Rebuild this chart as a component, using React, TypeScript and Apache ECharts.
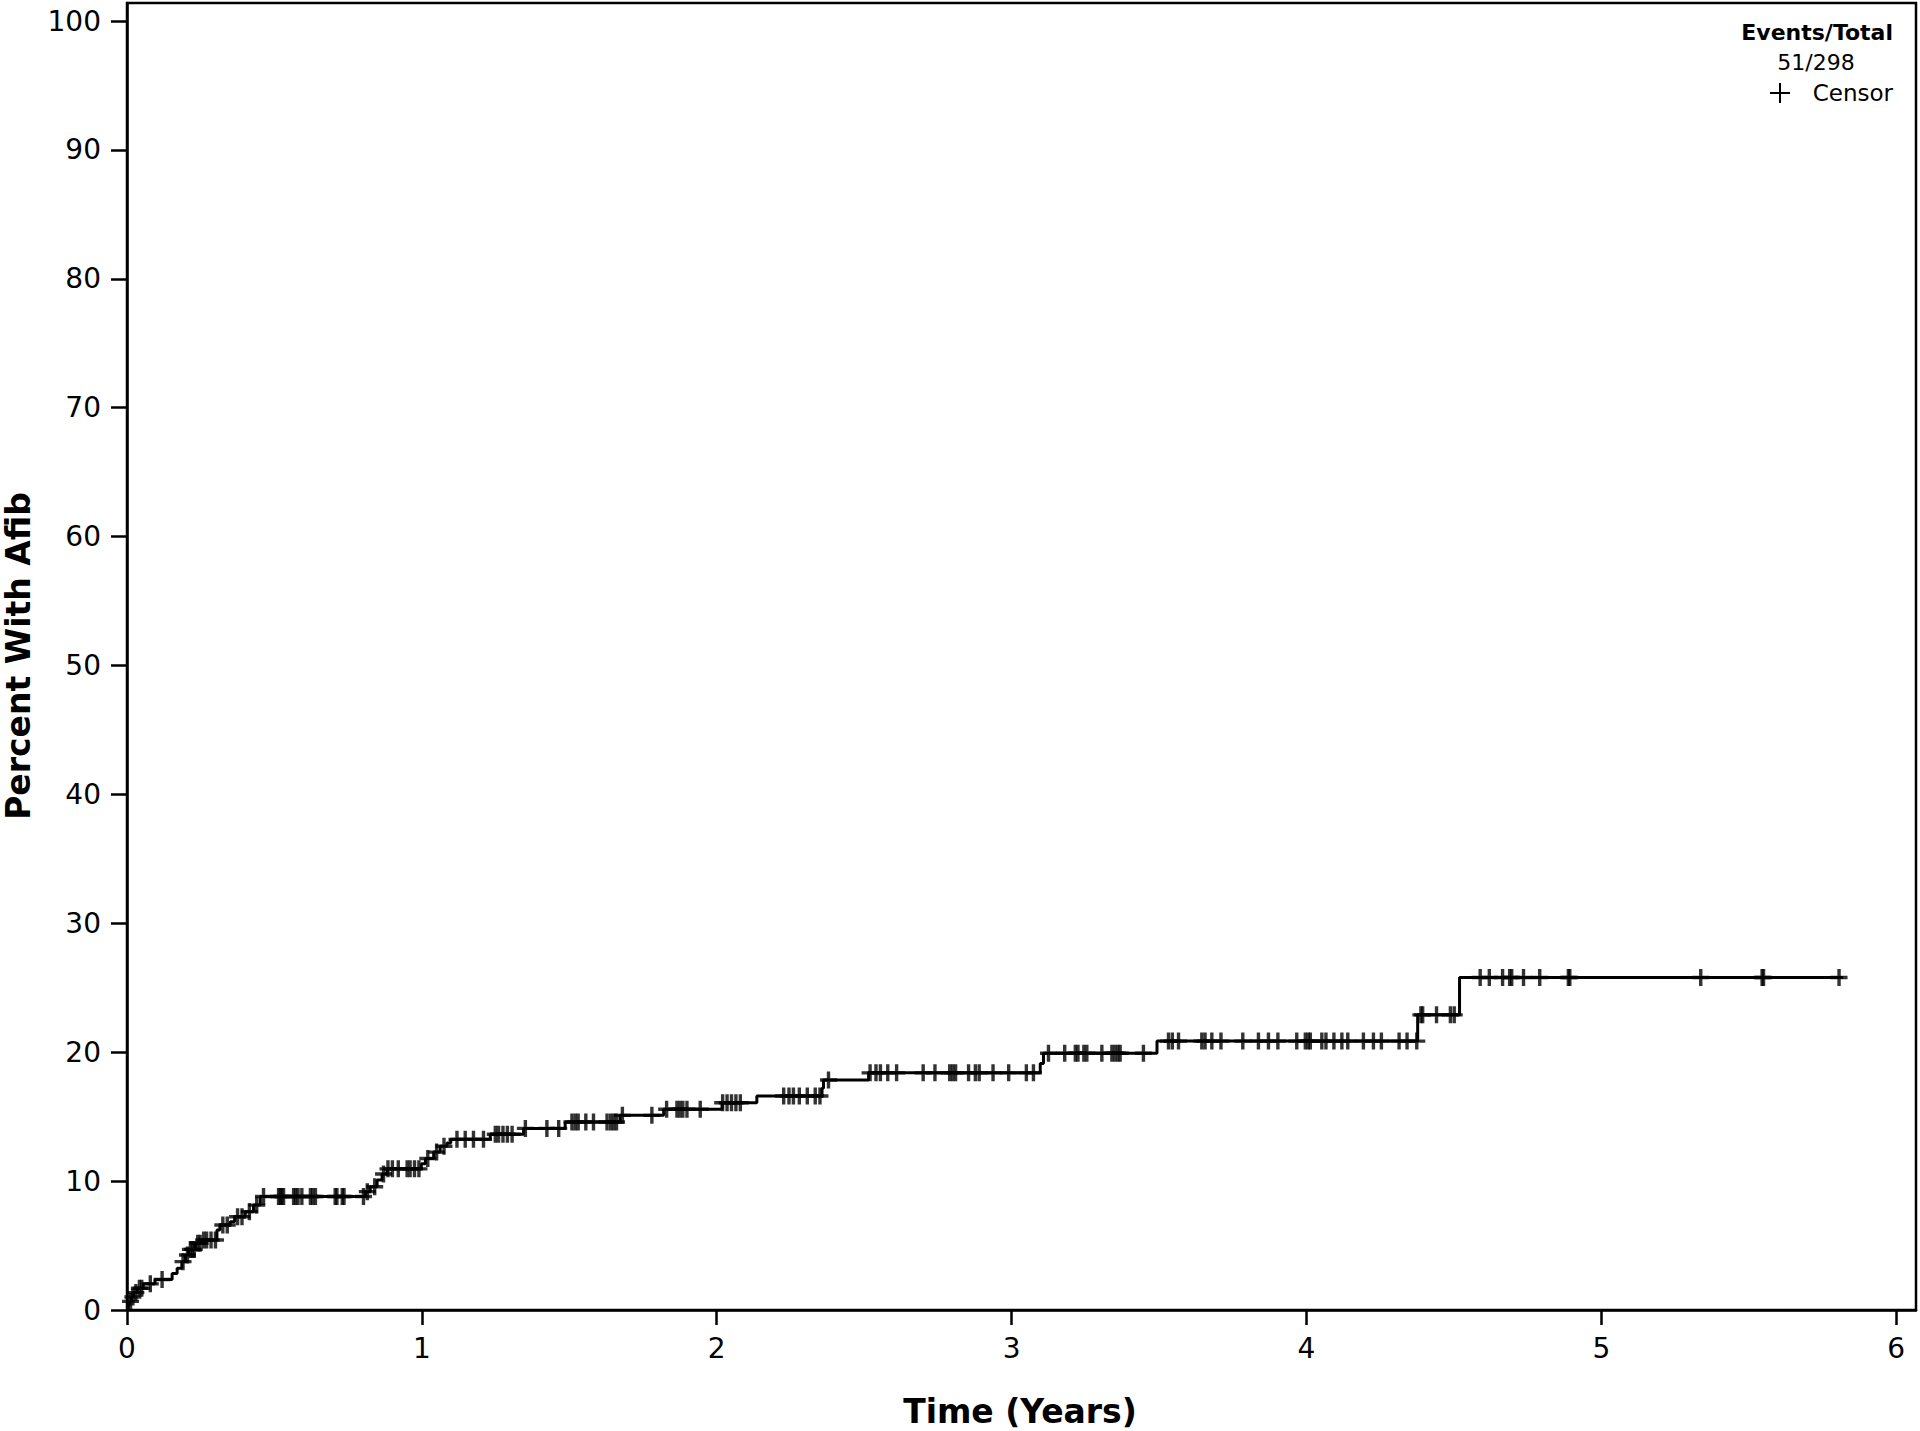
import React, { useEffect, useRef } from "react";
import * as echarts from "echarts";

// Kaplan-Meier step curve: event times (years) and cumulative percent with Afib
const eventTimes = [0, 0.003, 0.008, 0.015, 0.022, 0.035, 0.055, 0.095, 0.153, 0.17, 0.186, 0.198, 0.209, 0.232, 0.254, 0.305, 0.315, 0.35, 0.365, 0.401, 0.429, 0.452, 0.808, 0.825, 0.848, 0.865, 0.882, 0.998, 1.012, 1.04, 1.062, 1.085, 1.098, 1.232, 1.345, 1.486, 1.672, 1.82, 2.018, 2.136, 2.357, 2.362, 2.515, 3.097, 3.108, 3.493, 4.377, 4.519];
const eventValues = [0, 0.34, 0.67, 1.01, 1.35, 1.69, 2.03, 2.37, 2.84, 3.23, 3.75, 4.27, 4.7, 5.17, 5.43, 6.2, 6.6, 6.85, 7.24, 7.63, 8.14, 8.8, 9.18, 9.56, 10.08, 10.55, 10.95, 11.35, 11.75, 12.25, 12.7, 12.95, 13.24, 13.63, 14.09, 14.58, 15.1, 15.58, 16.08, 16.6, 17.2, 17.84, 18.4, 19.13, 19.92, 20.86, 22.9, 25.8];
const endTime = 5.82;

// Censoring times (years)
const censorTimes = [0.012, 0.02, 0.03, 0.042, 0.05, 0.079, 0.119, 0.19, 0.205, 0.215, 0.222, 0.228, 0.24, 0.248, 0.26, 0.27, 0.285, 0.3, 0.325, 0.34, 0.375, 0.39, 0.415, 0.44,
  0.463, 0.514, 0.52, 0.525, 0.531, 0.565, 0.572, 0.58, 0.593, 0.622, 0.63, 0.639, 0.706, 0.712, 0.73, 0.736, 0.802,
  0.815, 0.84, 0.87, 0.885, 0.9, 0.92, 0.95, 0.96, 0.975, 0.99, 1.02, 1.05, 1.075,
  1.119, 1.147, 1.175, 1.209, 1.249, 1.26, 1.275, 1.29, 1.306, 1.351, 1.424, 1.464,
  1.509, 1.52, 1.53, 1.556, 1.582, 1.628, 1.64, 1.65, 1.66, 1.68, 1.78,
  1.83, 1.865, 1.875, 1.885, 1.899, 1.944, 2.02, 2.035, 2.05, 2.065, 2.08,
  2.227, 2.245, 2.26, 2.28, 2.307, 2.334, 2.35, 2.379,
  2.52, 2.54, 2.555, 2.58, 2.61, 2.70, 2.74, 2.79, 2.8, 2.81, 2.854, 2.877, 2.89, 2.937, 2.99, 3.05, 3.074,
  3.125, 3.18, 3.216, 3.225, 3.245, 3.255, 3.306, 3.34, 3.35, 3.36, 3.368, 3.447,
  3.532, 3.545, 3.566, 3.645, 3.656, 3.679, 3.71, 3.784, 3.837, 3.871, 3.903, 3.967, 3.996, 4.006, 4.013, 4.052, 4.066, 4.093, 4.12, 4.14, 4.193, 4.227, 4.254, 4.314, 4.341, 4.374,
  4.388, 4.394, 4.441, 4.488, 4.501,
  4.589, 4.62, 4.665, 4.689, 4.696, 4.736, 4.791, 4.888, 4.893, 5.337, 5.545, 5.55, 5.806];

const xTicks = [0, 1, 2, 3, 4, 5, 6];
const yTicks = [0, 10, 20, 30, 40, 50, 60, 70, 80, 90, 100];

const FONT = "DejaVu Sans";

function valueAt(t: number): number {
  let v = 0;
  for (let i = 0; i < eventTimes.length; i++) {
    if (eventTimes[i] <= t) v = eventValues[i];
  }
  return v;
}

const PLUS = "path://M6.4,0H9.6V6.4H16V9.6H9.6V16H6.4V9.6H0V6.4H6.4Z";

export default function App() {
  const ref = useRef<HTMLDivElement>(null);
  useEffect(() => {
    if (!ref.current) return;
    const chart = echarts.init(ref.current, null, { renderer: "svg" });
    const curve = eventTimes.map((t, i) => [t, eventValues[i]]);
    curve.push([endTime, eventValues[eventValues.length - 1]]);
    const censors = censorTimes.map((t) => [t, valueAt(t)]);

    const left = 127, right = 4, top = 3, bottom = 121;
    chart.setOption({
      animation: false,
      backgroundColor: "#fff",
      grid: {
        left, right, top, bottom,
        show: true,
        borderColor: "#000",
        borderWidth: 2.5,
        backgroundColor: "transparent",
      },
      xAxis: {
        type: "value",
        min: 0,
        max: 6.067,
        axisLine: { show: true, onZero: false, lineStyle: { color: "#000", width: 2.5 } },
        axisTick: { show: true, length: 15, lineStyle: { color: "#000", width: 2.5 }, customValues: xTicks },
        axisLabel: { show: true, color: "#000", fontSize: 28, fontFamily: FONT, margin: 24, customValues: xTicks },
        splitLine: { show: false },
      },
      yAxis: {
        type: "value",
        min: 0,
        max: 101.4,
        axisLine: { show: true, onZero: false, lineStyle: { color: "#000", width: 2.5 } },
        axisTick: { show: true, length: 16, lineStyle: { color: "#000", width: 2.5 }, customValues: yTicks },
        axisLabel: { show: true, color: "#000", fontSize: 28, fontFamily: FONT, margin: 26, customValues: yTicks },
        splitLine: { show: false },
      },
      series: [
        {
          type: "line",
          data: curve,
          step: "end",
          symbol: "none",
          lineStyle: { color: "#000", width: 3 },
          z: 2,
        },
        {
          type: "scatter",
          data: censors,
          symbol: PLUS,
          symbolSize: 17,
          itemStyle: { color: "#000" },
          z: 3,
        },
      ],
      graphic: [
        {
          type: "text",
          x: 1020,
          y: 1411,
          style: { text: "Time (Years)", fill: "#000", font: `bold 33px "${FONT}"`, align: "center", verticalAlign: "middle" },
        },
        {
          type: "text",
          x: 18,
          y: 656,
          rotation: Math.PI / 2,
          style: { text: "Percent With Afib", fill: "#000", font: `bold 33px "${FONT}"`, align: "center", verticalAlign: "middle" },
        },
        {
          type: "text",
          x: 1893,
          y: 32,
          style: { text: "Events/Total", fill: "#000", font: `bold 22px "${FONT}"`, align: "right", verticalAlign: "middle" },
        },
        {
          type: "text",
          x: 1816,
          y: 62,
          style: { text: "51/298", fill: "#000", font: `22px "${FONT}"`, align: "center", verticalAlign: "middle" },
        },
        {
          type: "text",
          x: 1893,
          y: 93,
          style: { text: "Censor", fill: "#000", font: `23px "${FONT}"`, align: "right", verticalAlign: "middle" },
        },
        {
          type: "line",
          shape: { x1: 1770, y1: 93, x2: 1790, y2: 93 },
          style: { stroke: "#000", lineWidth: 2 },
        },
        {
          type: "line",
          shape: { x1: 1780, y1: 83, x2: 1780, y2: 103 },
          style: { stroke: "#000", lineWidth: 2 },
        },
      ],
    });
    return () => chart.dispose();
  }, []);
  return (
    <div
      ref={ref}
      style={{ position: "fixed", left: 0, top: 0, width: 1920, height: 1431, background: "#fff" }}
    />
  );
}
